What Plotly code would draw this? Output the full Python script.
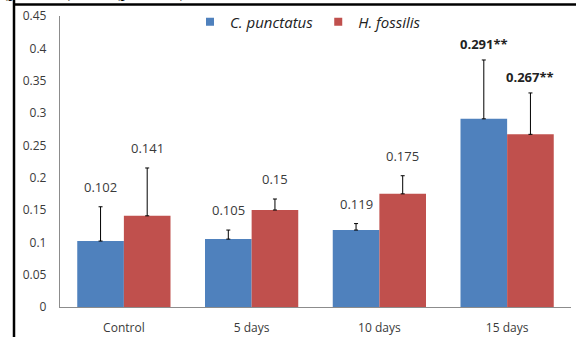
import plotly.graph_objects as go

categories = ["Control", "5 days", "10 days", "15 days"]
cp_vals = [0.102, 0.105, 0.119, 0.291]
hf_vals = [0.141, 0.150, 0.175, 0.267]
cp_err = [0.053, 0.014, 0.010, 0.091]
hf_err = [0.074, 0.017, 0.028, 0.064]
cp_labels = ["0.102", "0.105", "0.119", "0.291**"]
hf_labels = ["0.141", "0.15", "0.175", "0.267**"]
bold_flags = [False, False, False, True]
y_ticks = [0, 0.05, 0.1, 0.15, 0.2, 0.25, 0.3, 0.35, 0.4, 0.45]
y_ticktext = ["0", "0.05", "0.1", "0.15", "0.2", "0.25", "0.3", "0.35", "0.4", "0.45"]

BLUE = "#4F81BD"
RED = "#C0504D"
FONT = "Open Sans"
TXT = "#3a3a3a"

W, H = 576, 337
ML, MR, MT, MB = 60, 5, 16, 30
PW = W - ML - MR
PH = H - MT - MB

fig = go.Figure()
for name, vals, errs, col in [("C. punctatus", cp_vals, cp_err, BLUE),
                              ("H. fossilis", hf_vals, hf_err, RED)]:
    fig.add_trace(go.Bar(
        x=categories, y=vals, name=name, marker_color=col, marker_line_width=0,
        showlegend=False,
        error_y=dict(type="data", array=errs, arrayminus=[0] * len(errs),
                     symmetric=False, color="black", thickness=1, width=2),
    ))
    # legend proxies
    fig.add_trace(go.Scatter(
        x=[None], y=[None], mode="markers", name="<i>%s</i>" % name,
        marker=dict(symbol="square", size=8, color=col),
    ))

cat_w = PW / len(categories)
bar_w = cat_w * (1 - 0.27) / 2
annotations = []
for i, c in enumerate(categories):
    for vals, errs, labels, sgn in [(cp_vals, cp_err, cp_labels, -1),
                                    (hf_vals, hf_err, hf_labels, 1)]:
        b = bold_flags[i]
        annotations.append(dict(
            x=c, y=vals[i] + errs[i], xref="x", yref="y",
            text=("<b>%s</b>" % labels[i]) if b else labels[i],
            showarrow=False, xshift=sgn * bar_w / 2,
            yanchor="bottom", yshift=5 if b else 9,
            font=dict(family=FONT, size=13, color="#222222" if b else TXT),
        ))

# cropped caption text from the page above the figure
annotations.append(dict(
    x=-ML / PW, y=1, xref="paper", yref="paper", xanchor="left", yanchor="bottom",
    yshift=MT - 4, showarrow=False,
    text="(p < 0.05),   ** (p < 0.01)",
    font=dict(family="Liberation Serif", size=18, color="black"),
))

shapes = [
    dict(type="line", xref="paper", yref="paper",
         x0=(14 - ML) / PW, x1=(14 - ML) / PW, y0=-MB / PH - 0.01, y1=(H - MT + 12) / PH,
         line=dict(color="black", width=2.5)),
    dict(type="line", xref="paper", yref="paper",
         x0=(13 - ML) / PW, x1=(W - ML + 5) / PW, y0=(307 - 4.5) / PH, y1=(307 - 4.5) / PH,
         line=dict(color="black", width=2.5)),
]

fig.update_layout(
    width=W, height=H,
    margin=dict(l=ML, r=MR, t=MT, b=MB, autoexpand=False),
    paper_bgcolor="white", plot_bgcolor="white",
    barmode="group", bargap=0.27, bargroupgap=0,
    font=dict(family=FONT, size=12, color=TXT),
    showlegend=True,
    legend=dict(orientation="h", x=(308 - ML) / PW, xanchor="center", y=(307 - 22) / PH,
                yanchor="middle",
                font=dict(family=FONT, size=15, color="#222222"),
                bgcolor="rgba(0,0,0,0)", itemwidth=30, tracegroupgap=0),
    annotations=annotations,
    shapes=shapes,
    xaxis=dict(showline=True, linecolor="#8c8c8c", linewidth=1.3, ticks="",
               showgrid=False, zeroline=False, ticklabelstandoff=9, automargin=False,
               tickfont=dict(family=FONT, size=12, color=TXT), fixedrange=True),
    yaxis=dict(range=[0, 0.45], tickvals=y_ticks, ticktext=y_ticktext,
               showline=True, linecolor="#8c8c8c", linewidth=1.3, ticks="",
               showgrid=False, zeroline=False, ticklabelstandoff=10, automargin=False,
               tickfont=dict(family=FONT, size=12, color=TXT), fixedrange=True),
)

fig.write_html(
    "out.html",
    config={"displayModeBar": False},
    post_script="document.body.style.margin='0';document.body.style.overflow='hidden';",
)
